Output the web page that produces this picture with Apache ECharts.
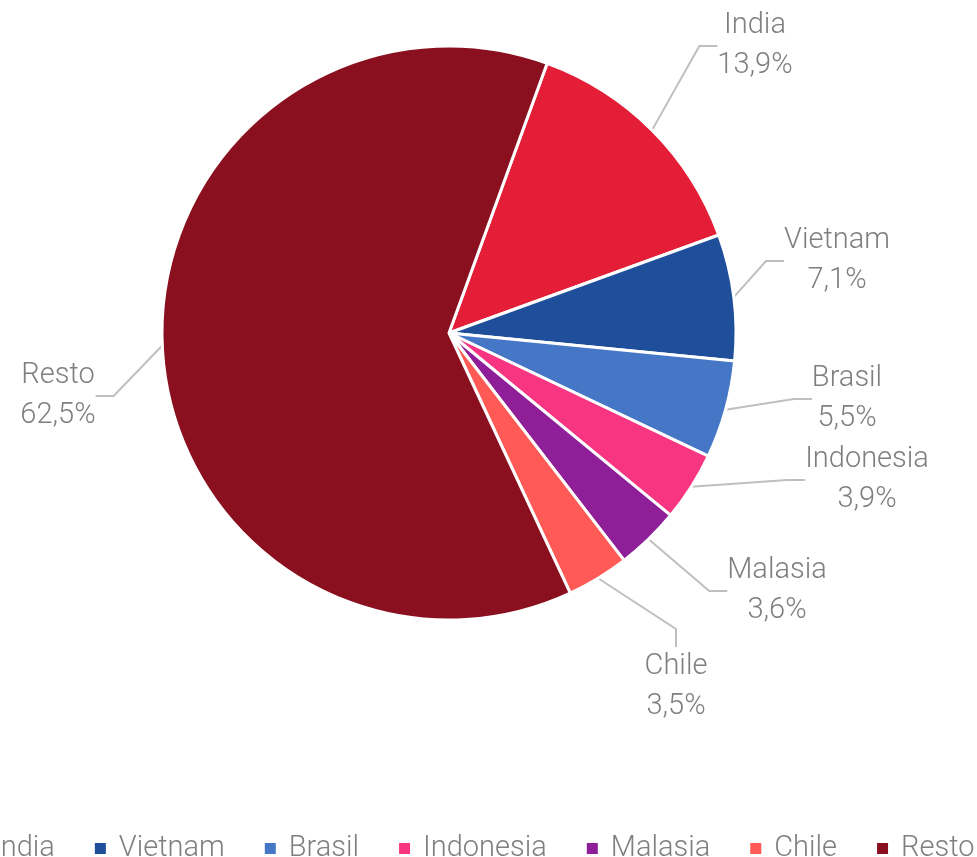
<!DOCTYPE html>
<html>
<head>
<meta charset="utf-8">
<script src="https://cdn.jsdelivr.net/npm/echarts@6/dist/echarts.min.js"></script>
<style>
html, body { margin: 0; padding: 0; background: #fff; }
#chart { width: 977px; height: 857px; }
</style>
</head>
<body>
<div id="chart"></div>
<script>
var paises = ['India', 'Vietnam', 'Brasil', 'Indonesia', 'Malasia', 'Chile', 'Resto'];
var porcentajes = [13.9, 7.1, 5.5, 3.9, 3.6, 3.5, 62.5];
var colores = ['#E31E36', '#1F4E9A', '#4677C6', '#F73581', '#8E1F98', '#FF5A56', '#8A0F1F'];
// centro de cada etiqueta (como en el original)
var posEtiquetas = [[755, 46], [837, 261], [847, 399], [867, 480], [777, 591], [676, 687], [58, 396]];

var myChart = echarts.init(document.getElementById('chart'));
var datos = [];
for (var i = 0; i < paises.length; i++) {
	datos.push({ name: paises[i], value: porcentajes[i], itemStyle: { color: colores[i] } });
}
var option = {
	backgroundColor: '#fff',
	legend: {
		data: paises,
		left: -38,
		top: 829,
		width: 1200,
		icon: 'rect',
		itemWidth: 13,
		itemHeight: 13,
		itemGap: 38,
		textStyle: { fontFamily: 'Roboto', fontWeight: 300, fontSize: 29, color: '#7f7f7f', padding: [0, 0, 0, 7] }
	},
	series: [{
		type: 'pie',
		center: [449, 333],
		radius: [0, 287],
		startAngle: 70,
		clockwise: true,
		avoidLabelOverlap: false,
		itemStyle: { borderColor: '#fff', borderWidth: 3 },
		label: {
			show: true,
			position: 'outside',
			fontFamily: 'Roboto',
			fontWeight: 300,
			fontSize: 29,
			lineHeight: 40,
			color: '#7f7f7f',
			align: 'center',
			formatter: function (p) {
				return p.name + '\n' + p.value.toFixed(1).replace('.', ',') + '%';
			}
		},
		labelLine: {
			show: true,
			length: 30,
			length2: 18,
			lineStyle: { color: '#bfbfbf', width: 2 }
		},
		labelLayout: function (params) {
			var p = posEtiquetas[params.dataIndex];
			return { x: p[0], y: p[1], align: 'center', verticalAlign: 'middle', hideOverlap: false };
		},
		data: datos
	}]
};
myChart.setOption(option);
</script>
</body>
</html>
